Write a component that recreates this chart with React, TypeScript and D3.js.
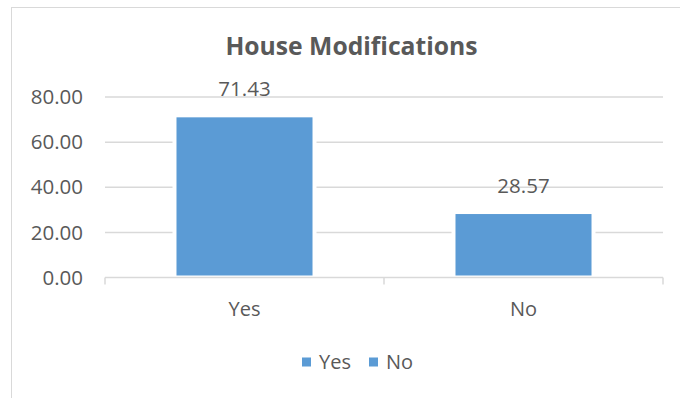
import React from "react";
import * as d3 from "d3";

const title = "House Modifications";
const categories = ["Yes", "No"];
const values = [71.43, 28.57];
const yTicks = [0, 20, 40, 60, 80];
const legendItems = ["Yes", "No"];

const W = 680;
const H = 398;
const FONT = "'Open Sans', 'Noto Sans', sans-serif";
const TEXT = "#595959";
const GRID = "#D9D9D9";
const BAR = "#5B9BD5";

export default function App() {
  const x = d3
    .scaleBand<string>()
    .domain(categories)
    .range([105, 663])
    .paddingInner(0.5125)
    .paddingOuter(0.25625);
  const y = d3.scaleLinear().domain([0, 80]).range([277.5, 97]);
  const fmt = d3.format(".2f");
  const y0 = y(0);

  return (
    <svg
      width={W}
      height={H}
      style={{ position: "absolute", left: 0, top: 0, display: "block" }}
      fontFamily={FONT}
    >
      <rect x={0} y={0} width={W} height={H} fill="#fff" />
      {/* outer chart border (right and bottom off-canvas) */}
      <rect x={11.5} y={7.5} width={W + 20} height={H + 20} fill="none" stroke={GRID} strokeWidth={1} />
      <text x={351.5} y={55} textAnchor="middle" fontSize={24.7} fontWeight="bold" fill={TEXT}>
        {title}
      </text>
      {/* gridlines */}
      {yTicks.filter((t) => t !== 0).map((t) => (
        <line key={t} x1={105} x2={663} y1={y(t)} y2={y(t)} stroke={GRID} strokeWidth={1.5} />
      ))}
      {/* y tick labels */}
      {yTicks.map((t) => (
        <text key={t} x={83} y={y(t)} dy="0.35em" textAnchor="end" fontSize={20.5} fill={TEXT}>
          {fmt(t)}
        </text>
      ))}
      {/* bars with white halo */}
      {categories.map((c, i) => {
        const bx = x(c)!;
        const bw = x.bandwidth();
        const top = y(values[i]) + 1;
        return (
          <g key={c}>
            <rect x={bx - 4} y={top - 4} width={bw + 8} height={y0 - 1 - (top - 4)} fill="#fff" />
            <rect x={bx} y={top} width={bw} height={y0 - 2 - top} fill={BAR} />
            <text x={bx + bw / 2} y={top - 21} textAnchor="middle" fontSize={20.5} fill={TEXT}>
              {fmt(values[i])}
            </text>
            <text x={bx + bw / 2} y={316} textAnchor="middle" fontSize={20} fill={TEXT}>
              {c}
            </text>
          </g>
        );
      })}
      {/* x axis */}
      <line x1={105} x2={663} y1={y0} y2={y0} stroke={GRID} strokeWidth={1.5} />
      {[105, ...categories.map((c) => x(c)! + x.bandwidth() / 2 + x.step() / 2)].map((tx, i) => (
        <line key={i} x1={tx} x2={tx} y1={y0} y2={y0 + 7} stroke={GRID} strokeWidth={1.5} />
      ))}
      {/* legend */}
      {legendItems.map((l, i) => {
        const lx = i === 0 ? 302 : 369;
        return (
          <g key={l}>
            <rect x={lx} y={357.5} width={9} height={9} fill={BAR} />
            <text x={lx + 17} y={369} fontSize={20} fill={TEXT}>
              {l}
            </text>
          </g>
        );
      })}
    </svg>
  );
}
